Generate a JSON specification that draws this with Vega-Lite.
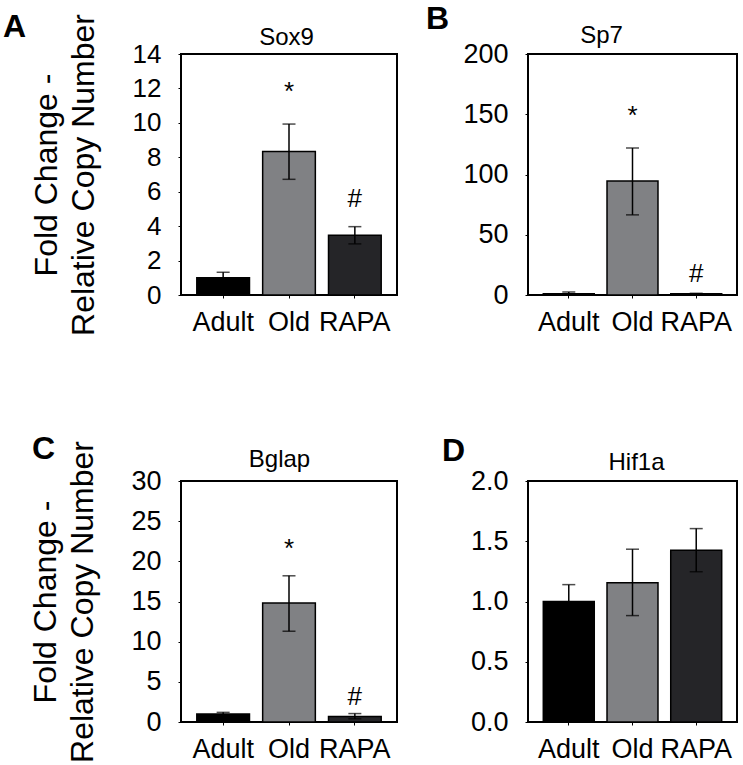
{
  "$schema": "https://vega.github.io/schema/vega-lite/v6.json",
  "padding": {"left": 2, "top": 2, "right": 5, "bottom": 5},
  "data": {"values": [
    {"gene": "Sox9", "group": "Adult", "mean": 1.0, "lo": 0.7, "hi": 1.32, "sig": "", "sigy": 0},
    {"gene": "Sox9", "group": "Old", "mean": 8.33, "lo": 6.72, "hi": 9.93, "sig": "*", "sigy": 11.3},
    {"gene": "Sox9", "group": "RAPA", "mean": 3.47, "lo": 2.97, "hi": 3.97, "sig": "#", "sigy": 5.1},
    {"gene": "Sp7", "group": "Adult", "mean": 1.0, "lo": 0.4, "hi": 2.5, "sig": "", "sigy": 0},
    {"gene": "Sp7", "group": "Old", "mean": 94.6, "lo": 66.5, "hi": 122, "sig": "*", "sigy": 141.6},
    {"gene": "Sp7", "group": "RAPA", "mean": 1.0, "lo": 0.6, "hi": 1.4, "sig": "#", "sigy": 10.7},
    {"gene": "Bglap", "group": "Adult", "mean": 1.0, "lo": 0.8, "hi": 1.2, "sig": "", "sigy": 0},
    {"gene": "Bglap", "group": "Old", "mean": 14.8, "lo": 11.3, "hi": 18.2, "sig": "*", "sigy": 20.6},
    {"gene": "Bglap", "group": "RAPA", "mean": 0.7, "lo": 0.4, "hi": 1.05, "sig": "#", "sigy": 2.1},
    {"gene": "Hif1a", "group": "Adult", "mean": 1.0, "lo": 0.86, "hi": 1.14, "sig": "", "sigy": 0},
    {"gene": "Hif1a", "group": "Old", "mean": 1.156, "lo": 0.883, "hi": 1.434, "sig": "", "sigy": 0},
    {"gene": "Hif1a", "group": "RAPA", "mean": 1.426, "lo": 1.247, "hi": 1.605, "sig": "", "sigy": 0}
  ]},
  "columns": 2,
  "bounds": "flush",
  "spacing": {"row": 186, "column": 131},
  "concat": [
    {
      "width": 216, "height": 241,
      "title": {"text": "A", "anchor": "start", "frame": "group", "dx": -178, "offset": -55, "fontSize": 32, "fontWeight": "bold", "baseline": "alphabetic"},
      "transform": [{"filter": "datum.gene === 'Sox9'"}],
      "layer": [
        {"mark": {"type": "bar", "stroke": "black", "strokeWidth": 1.5},
         "encoding": {
           "x": {"field": "group", "type": "nominal", "sort": ["Adult", "Old", "RAPA"], "scale": {"paddingInner": 0.2, "paddingOuter": 0.24},
                 "axis": {"orient": "bottom", "title": null, "labelAngle": 0, "labelFontSize": 27, "labelPadding": 11, "tickSize": 3, "domain": false}},
           "y": {"field": "mean", "type": "quantitative", "scale": {"domain": [0, 14]},
                 "axis": {"orient": "left", "values": [0, 2, 4, 6, 8, 10, 12, 14], "tickCount": 8, "labelOverlap": false, "tickSize": 3, "labelPadding": 17, "labelFontSize": 26, "domain": false,
                          "title": ["Fold Change -", "Relative Copy Number"], "titleFontSize": 32, "titleFontWeight": "normal", "titleLineHeight": 37, "titlePadding": 32}},
           "color": {"field": "group", "type": "nominal", "scale": {"domain": ["Adult", "Old", "RAPA"], "range": ["#000000", "#808184", "#252528"]}, "legend": null}
         }},
        {"mark": {"type": "rule", "strokeWidth": 1.5, "color": "black"},
         "encoding": {
           "x": {"field": "group", "type": "nominal", "sort": ["Adult", "Old", "RAPA"],
                 "axis": {"orient": "top", "title": "Sox9", "labels": false, "ticks": false, "domain": false, "titleX": 105, "titleY": -10, "titleFontSize": 24, "titleFontWeight": "normal", "titleBaseline": "alphabetic", "titleAlign": "center"}},
           "y": {"field": "lo", "type": "quantitative",
                 "axis": {"orient": "left", "values": [0, 2, 4, 6, 8, 10, 12, 14], "tickCount": 8, "labelOverlap": false, "tickSize": 3, "labelPadding": 17, "labelFontSize": 26, "domain": false,
                          "title": ["Fold Change -", "Relative Copy Number"], "titleFontSize": 32, "titleFontWeight": "normal", "titleLineHeight": 37, "titlePadding": 32}},
           "y2": {"field": "hi"}
         }},
        {"mark": {"type": "tick", "color": "black", "thickness": 1.5, "size": 13},
         "encoding": {"x": {"field": "group", "type": "nominal", "sort": ["Adult", "Old", "RAPA"], "axis": null},
           "y": {"field": "hi", "type": "quantitative",
                 "axis": {"orient": "left", "values": [0, 2, 4, 6, 8, 10, 12, 14], "tickCount": 8, "labelOverlap": false, "tickSize": 3, "labelPadding": 17, "labelFontSize": 26, "domain": false,
                          "title": ["Fold Change -", "Relative Copy Number"], "titleFontSize": 32, "titleFontWeight": "normal", "titleLineHeight": 37, "titlePadding": 32}}}},
        {"mark": {"type": "tick", "color": "black", "thickness": 1.5, "size": 13},
         "encoding": {"x": {"field": "group", "type": "nominal", "sort": ["Adult", "Old", "RAPA"], "axis": null},
           "y": {"field": "lo", "type": "quantitative",
                 "axis": {"orient": "left", "values": [0, 2, 4, 6, 8, 10, 12, 14], "tickCount": 8, "labelOverlap": false, "tickSize": 3, "labelPadding": 17, "labelFontSize": 26, "domain": false,
                          "title": ["Fold Change -", "Relative Copy Number"], "titleFontSize": 32, "titleFontWeight": "normal", "titleLineHeight": 37, "titlePadding": 32}}}},
        {"transform": [{"filter": "datum.sig !== ''"}],
         "mark": {"type": "text", "fontSize": 26, "baseline": "alphabetic", "color": "black"},
         "encoding": {"x": {"field": "group", "type": "nominal", "sort": ["Adult", "Old", "RAPA"], "axis": null},
           "y": {"field": "sigy", "type": "quantitative",
                 "axis": {"orient": "left", "values": [0, 2, 4, 6, 8, 10, 12, 14], "tickCount": 8, "labelOverlap": false, "tickSize": 3, "labelPadding": 17, "labelFontSize": 26, "domain": false,
                          "title": ["Fold Change -", "Relative Copy Number"], "titleFontSize": 32, "titleFontWeight": "normal", "titleLineHeight": 37, "titlePadding": 32}},
           "text": {"field": "sig"}}}
      ]
    },
    {
      "width": 209, "height": 241,
      "title": {"text": "B", "anchor": "start", "frame": "group", "dx": -102, "offset": -38, "fontSize": 32, "fontWeight": "bold", "baseline": "alphabetic"},
      "transform": [{"filter": "datum.gene === 'Sp7'"}],
      "layer": [
        {"mark": {"type": "bar", "stroke": "black", "strokeWidth": 1.5},
         "encoding": {
           "x": {"field": "group", "type": "nominal", "sort": ["Adult", "Old", "RAPA"], "scale": {"paddingInner": 0.2, "paddingOuter": 0.24},
                 "axis": {"orient": "bottom", "title": null, "labelAngle": 0, "labelFontSize": 27, "labelPadding": 11, "tickSize": 3, "domain": false}},
           "y": {"field": "mean", "type": "quantitative", "scale": {"domain": [0, 200]},
                 "axis": {"orient": "left", "values": [0, 50, 100, 150, 200], "labelOverlap": false, "tickSize": 3, "labelPadding": 17, "labelFontSize": 27, "domain": false, "title": null}},
           "color": {"field": "group", "type": "nominal", "scale": {"domain": ["Adult", "Old", "RAPA"], "range": ["#000000", "#808184", "#252528"]}, "legend": null}
         }},
        {"mark": {"type": "rule", "strokeWidth": 1.5, "color": "black"},
         "encoding": {
           "x": {"field": "group", "type": "nominal", "sort": ["Adult", "Old", "RAPA"],
                 "axis": {"orient": "top", "title": "Sp7", "labels": false, "ticks": false, "domain": false, "titleX": 73, "titleY": -12, "titleFontSize": 24, "titleFontWeight": "normal", "titleBaseline": "alphabetic", "titleAlign": "center"}},
           "y": {"field": "lo", "type": "quantitative"},
           "y2": {"field": "hi"}
         }},
        {"mark": {"type": "tick", "color": "black", "thickness": 1.5, "size": 13},
         "encoding": {"x": {"field": "group", "type": "nominal", "sort": ["Adult", "Old", "RAPA"], "axis": null}, "y": {"field": "hi", "type": "quantitative"}}},
        {"mark": {"type": "tick", "color": "black", "thickness": 1.5, "size": 13},
         "encoding": {"x": {"field": "group", "type": "nominal", "sort": ["Adult", "Old", "RAPA"], "axis": null}, "y": {"field": "lo", "type": "quantitative"}}},
        {"transform": [{"filter": "datum.sig !== ''"}],
         "mark": {"type": "text", "fontSize": 26, "baseline": "alphabetic", "color": "black"},
         "encoding": {"x": {"field": "group", "type": "nominal", "sort": ["Adult", "Old", "RAPA"], "axis": null}, "y": {"field": "sigy", "type": "quantitative"}, "text": {"field": "sig"}}}
      ]
    },
    {
      "width": 216, "height": 241,
      "title": {"text": "C", "anchor": "start", "frame": "group", "dx": -149, "offset": -50, "fontSize": 32, "fontWeight": "bold", "baseline": "alphabetic"},
      "transform": [{"filter": "datum.gene === 'Bglap'"}],
      "layer": [
        {"mark": {"type": "bar", "stroke": "black", "strokeWidth": 1.5},
         "encoding": {
           "x": {"field": "group", "type": "nominal", "sort": ["Adult", "Old", "RAPA"], "scale": {"paddingInner": 0.2, "paddingOuter": 0.24},
                 "axis": {"orient": "bottom", "title": null, "labelAngle": 0, "labelFontSize": 27, "labelPadding": 11, "tickSize": 3, "domain": false}},
           "y": {"field": "mean", "type": "quantitative", "scale": {"domain": [0, 30]},
                 "axis": {"orient": "left", "values": [0, 5, 10, 15, 20, 25, 30], "labelOverlap": false, "tickSize": 3, "labelPadding": 17, "labelFontSize": 27, "domain": false,
                          "title": ["Fold Change -", "Relative Copy Number"], "titleFontSize": 32, "titleFontWeight": "normal", "titleLineHeight": 37, "titlePadding": 31}},
           "color": {"field": "group", "type": "nominal", "scale": {"domain": ["Adult", "Old", "RAPA"], "range": ["#000000", "#808184", "#252528"]}, "legend": null}
         }},
        {"mark": {"type": "rule", "strokeWidth": 1.5, "color": "black"},
         "encoding": {
           "x": {"field": "group", "type": "nominal", "sort": ["Adult", "Old", "RAPA"],
                 "axis": {"orient": "top", "title": "Bglap", "labels": false, "ticks": false, "domain": false, "titleX": 98, "titleY": -15, "titleFontSize": 24, "titleFontWeight": "normal", "titleBaseline": "alphabetic", "titleAlign": "center"}},
           "y": {"field": "lo", "type": "quantitative"},
           "y2": {"field": "hi"}
         }},
        {"mark": {"type": "tick", "color": "black", "thickness": 1.5, "size": 13},
         "encoding": {"x": {"field": "group", "type": "nominal", "sort": ["Adult", "Old", "RAPA"], "axis": null}, "y": {"field": "hi", "type": "quantitative"}}},
        {"mark": {"type": "tick", "color": "black", "thickness": 1.5, "size": 13},
         "encoding": {"x": {"field": "group", "type": "nominal", "sort": ["Adult", "Old", "RAPA"], "axis": null}, "y": {"field": "lo", "type": "quantitative"}}},
        {"transform": [{"filter": "datum.sig !== ''"}],
         "mark": {"type": "text", "fontSize": 26, "baseline": "alphabetic", "color": "black"},
         "encoding": {"x": {"field": "group", "type": "nominal", "sort": ["Adult", "Old", "RAPA"], "axis": null}, "y": {"field": "sigy", "type": "quantitative"}, "text": {"field": "sig"}}}
      ]
    },
    {
      "width": 209, "height": 241,
      "title": {"text": "D", "anchor": "start", "frame": "group", "dx": -86, "offset": -43, "fontSize": 32, "fontWeight": "bold", "baseline": "alphabetic"},
      "transform": [{"filter": "datum.gene === 'Hif1a'"}],
      "layer": [
        {"mark": {"type": "bar", "stroke": "black", "strokeWidth": 1.5},
         "encoding": {
           "x": {"field": "group", "type": "nominal", "sort": ["Adult", "Old", "RAPA"], "scale": {"paddingInner": 0.2, "paddingOuter": 0.24},
                 "axis": {"orient": "bottom", "title": null, "labelAngle": 0, "labelFontSize": 27, "labelPadding": 11, "tickSize": 3, "domain": false}},
           "y": {"field": "mean", "type": "quantitative", "scale": {"domain": [0, 2]},
                 "axis": {"orient": "left", "values": [0, 0.5, 1, 1.5, 2], "format": ".1f", "labelOverlap": false, "tickSize": 3, "labelPadding": 17, "labelFontSize": 27, "domain": false, "title": null}},
           "color": {"field": "group", "type": "nominal", "scale": {"domain": ["Adult", "Old", "RAPA"], "range": ["#000000", "#808184", "#252528"]}, "legend": null}
         }},
        {"mark": {"type": "rule", "strokeWidth": 1.5, "color": "black"},
         "encoding": {
           "x": {"field": "group", "type": "nominal", "sort": ["Adult", "Old", "RAPA"],
                 "axis": {"orient": "top", "title": "Hif1a", "labels": false, "ticks": false, "domain": false, "titleX": 108, "titleY": -12, "titleFontSize": 24, "titleFontWeight": "normal", "titleBaseline": "alphabetic", "titleAlign": "center"}},
           "y": {"field": "lo", "type": "quantitative"},
           "y2": {"field": "hi"}
         }},
        {"mark": {"type": "tick", "color": "black", "thickness": 1.5, "size": 13},
         "encoding": {"x": {"field": "group", "type": "nominal", "sort": ["Adult", "Old", "RAPA"], "axis": null}, "y": {"field": "hi", "type": "quantitative"}}},
        {"mark": {"type": "tick", "color": "black", "thickness": 1.5, "size": 13},
         "encoding": {"x": {"field": "group", "type": "nominal", "sort": ["Adult", "Old", "RAPA"], "axis": null}, "y": {"field": "lo", "type": "quantitative"}}}
      ]
    }
  ],
  "config": {
    "font": "Liberation Sans",
    "background": "white",
    "view": {"stroke": "black", "strokeWidth": 2},
    "axis": {"labelColor": "black", "titleColor": "black", "tickColor": "black", "tickWidth": 1, "grid": false, "labelOverlap": false},
    "title": {"color": "black", "font": "Liberation Sans"}
  }
}
